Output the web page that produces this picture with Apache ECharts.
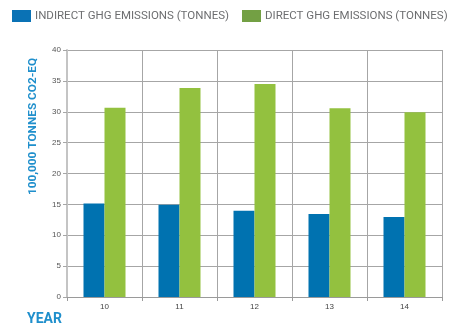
<!DOCTYPE html>
<html><head><meta charset="utf-8">
<script src="https://cdn.jsdelivr.net/npm/echarts@6/dist/echarts.min.js"></script>
<style>html,body{margin:0;padding:0;background:#fff}#c{width:449px;height:328px}</style>
</head><body><div id="c"></div>
<script>
const categories = ['10', '11', '12', '13', '14'];
const indirect = [15.15, 14.95, 13.98, 13.45, 12.95];
const direct = [30.65, 33.85, 34.5, 30.55, 29.9];
const seriesNames = ['INDIRECT GHG EMISSIONS (TONNES)', 'DIRECT GHG EMISSIONS (TONNES)'];
const yTicks = {min: 0, max: 40, interval: 5};

const fam = 'Roboto, "Liberation Sans", sans-serif';
const chart = echarts.init(document.getElementById('c'), null, {renderer: 'canvas'});
chart.setOption({
  animation: false,
  legend: {
    left: 12, top: 10, width: 700, padding: 0, itemWidth: 19, itemHeight: 12, itemGap: 13,
    icon: 'rect',
    textStyle: {fontFamily: fam, fontSize: 11.5, color: '#6d6e70', padding: [0,0,0,-1]},
    data: [
      {name: seriesNames[0], itemStyle: {color: '#0a72b5'}},
      {name: seriesNames[1], itemStyle: {color: '#73a044'}}
    ]
  },
  grid: {left: 67, right: 7, top: 50, bottom: 31},
  xAxis: {
    type: 'category', data: categories, boundaryGap: true,
    axisLine: {lineStyle: {color: '#9a9a9a', width: 1}},
    axisTick: {show: true, length: 4, lineStyle: {color: '#9a9a9a'}},
    axisLabel: {color: '#444', fontSize: 8, fontFamily: 'Liberation Sans, Arial, sans-serif', margin: 6},
    splitLine: {show: true, lineStyle: {color: '#a6a6a6', width: 1}}
  },
  yAxis: {
    type: 'value', min: yTicks.min, max: yTicks.max, interval: yTicks.interval,
    name: '100,000 TONNES CO2-EQ', nameLocation: 'middle', nameGap: 28, nameRotate: 90,
    nameTextStyle: {color: '#1f8fcc', fontWeight: 'bold', fontSize: 11.8, fontFamily: fam, padding: [0,0,0,94]},
    axisLine: {show: true, lineStyle: {color: '#c4c4c4', width: 2}},
    axisTick: {show: true, length: 4, lineStyle: {color: '#a6a6a6'}},
    axisLabel: {color: '#555', fontSize: 8, fontFamily: 'Liberation Sans, Arial, sans-serif', margin: 6},
    splitLine: {show: true, lineStyle: {color: '#a6a6a6', width: 1}}
  },
  series: [
    {name: seriesNames[0], type: 'bar', data: indirect, barWidth: 21, barGap: '0%', itemStyle: {color: '#0072b0'}},
    {name: seriesNames[1], type: 'bar', data: direct, barWidth: 21, barGap: '0%', itemStyle: {color: '#93c13f'}}
  ],
  graphic: [{
    type: 'text', left: 27, top: 312,
    style: {text: 'YEAR', fill: '#1f8fcc', font: 'bold 14px ' + fam}
  }]
});
</script></body></html>
